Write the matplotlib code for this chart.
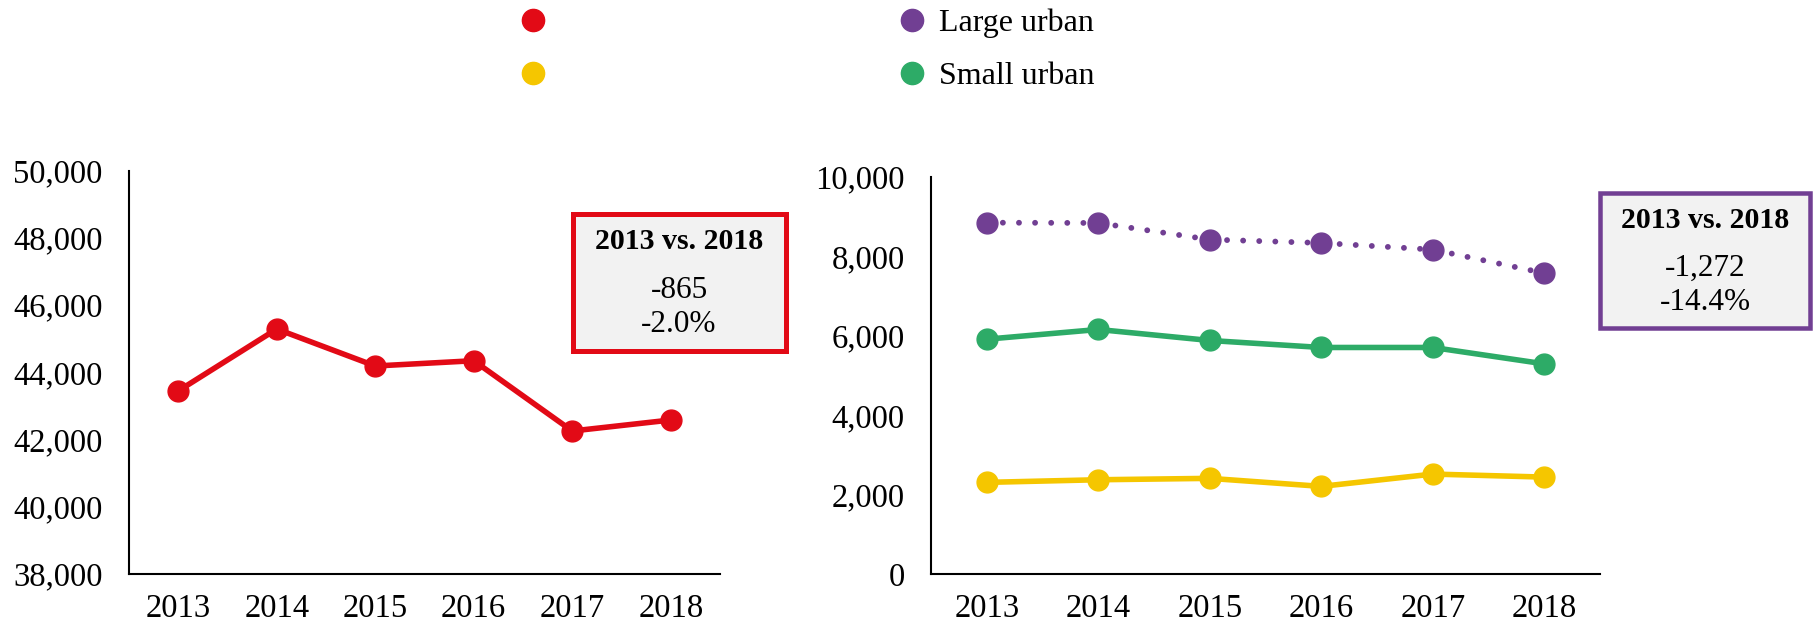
import matplotlib
matplotlib.use("Agg")
import matplotlib.pyplot as plt
from matplotlib.lines import Line2D
from matplotlib.patches import Rectangle
from matplotlib.ticker import FuncFormatter, MultipleLocator

plt.rcParams['font.family'] = ['Liberation Serif', 'DejaVu Serif']

years = ['2013', '2014', '2015', '2016', '2017', '2018']
total = [43445, 45286, 44186, 44343, 42253, 42580]
large_urban = [8850, 8842, 8424, 8339, 8172, 7578]
small_urban = [5915, 6159, 5882, 5706, 5706, 5293]
rural = [2308, 2374, 2409, 2207, 2517, 2441]

legend_labels = ['', '', 'Large urban', 'Small urban']
box_left = ['2013 vs. 2018', '-865', '-2.0%']
box_right = ['2013 vs. 2018', '-1,272', '-14.4%']

RED = '#E20A16'
PURPLE = '#713F93'
GREEN = '#2DAB67'
YELLOW = '#F5C600'

W, H = 1818, 625
fig = plt.figure(figsize=(W / 100, H / 100), dpi=100)

def fx(x):
    return x / W

def fy(y):
    return 1 - y / H

ax1 = fig.add_axes([fx(129), fy(574), fx(720) - fx(129), fy(170.5) - fy(574)])
ax2 = fig.add_axes([fx(931), fy(574), fx(1600) - fx(931), fy(177) - fy(574)])

x = list(range(len(years)))
ms = 15
lw = 4
ax1.plot(x, total, color=RED, lw=lw, marker='o', ms=ms)
ax2.plot(x, large_urban, color=PURPLE, lw=4.2, linestyle=(0, (0.01, 2.75)),
         dash_capstyle='round', marker='o', ms=ms)
ax2.plot(x, small_urban, color=GREEN, lw=lw, marker='o', ms=ms)
ax2.plot(x, rural, color=YELLOW, lw=lw, marker='o', ms=ms)

fmt = FuncFormatter(lambda v, p: f'{int(v):,}')
for ax, lo, hi in [(ax1, 38000, 50000), (ax2, 0, 10000)]:
    ax.set_xlim(-0.5, 5.5)
    ax.set_ylim(lo, hi)
    ax.yaxis.set_major_locator(MultipleLocator(2000))
    ax.yaxis.set_major_formatter(fmt)
    ax.set_xticks(x)
    ax.set_xticklabels(years)
    for s in ['top', 'right']:
        ax.spines[s].set_visible(False)
    for s in ['left', 'bottom']:
        ax.spines[s].set_linewidth(1.5)
        ax.spines[s].set_color('black')
    ax.tick_params(axis='y', length=0, pad=19, labelsize=23.5)
    ax.tick_params(axis='x', length=0, pad=14, labelsize=23.5)
    ax.patch.set_alpha(0)

# annotation boxes
def box(x0, y0, x1, y1, color, lwpx, texts, cx, ys):
    half = lwpx / 2
    r = Rectangle((fx(x0 + half), fy(y1 - half)), fx(x1 - x0 - lwpx), (y1 - y0 - lwpx) / H,
                  transform=fig.transFigure, facecolor='#F2F2F2', edgecolor=color,
                  linewidth=lwpx * 0.72, zorder=5)
    fig.patches.append(r)
    for i, (t, yy) in enumerate(zip(texts, ys)):
        fig.text(fx(cx), fy(yy), t, ha='center', va='center',
                 fontsize=21.5 if i == 0 else 22.5,
                 fontweight='bold' if i == 0 else 'normal', zorder=6)

box(570, 211.7, 788.3, 353.3, RED, 5, box_left, 679, [241.7, 290, 325])
box(1597.3, 190.7, 1812.7, 330.7, PURPLE, 4.5, box_right, 1705, [220.7, 268, 303])

handles = [Line2D([], [], marker='o', linestyle='none', markersize=16, color=c)
           for c in [RED, YELLOW, PURPLE, GREEN]]
leg = fig.legend(handles, legend_labels, ncol=2, loc='upper left',
                 bbox_to_anchor=(fx(511), fy(2)), frameon=False, fontsize=23,
                 handlelength=1.0, handletextpad=0.35, columnspacing=10.5,
                 labelspacing=0.75, borderaxespad=0, borderpad=0.2)

fig.savefig('out.png', dpi=100)
